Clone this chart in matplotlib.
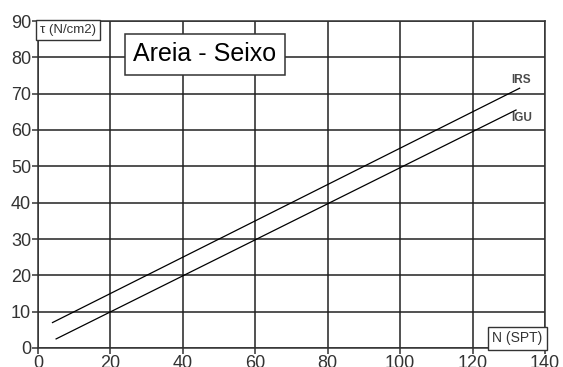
import matplotlib.pyplot as plt

plt.rcParams['font.family'] = ['Liberation Sans', 'DejaVu Sans']

irs_n = [4, 133]
irs_tau = [7, 71.5]
igu_n = [5, 132]
igu_tau = [2.5, 65.5]
xticks = [0, 20, 40, 60, 80, 100, 120, 140]
yticks = [0, 10, 20, 30, 40, 50, 60, 70, 80, 90]

fig = plt.figure(figsize=(5.63, 3.67), dpi=100)
ax = fig.add_axes([38/563, 1-348/367, (545-38)/563, (348-21)/367])

ax.plot(irs_n, irs_tau, color='black', lw=0.9)
ax.plot(igu_n, igu_tau, color='black', lw=0.9)

ax.set_xlim(0, 140)
ax.set_ylim(0, 90)
ax.set_xticks(xticks)
ax.set_yticks(yticks)
ax.grid(True, color='#222222', lw=1.1)
ax.set_axisbelow(True)
for s in ax.spines.values():
    s.set_color('#333333')
    s.set_linewidth(1.1)
ax.tick_params(length=4, width=1.1, color='#333333', labelcolor='#333333',
               labelsize=13, pad=1)

ax.text(130.8, 72, 'IRS', fontsize=8.5, color='#4a4a4a', fontweight='semibold',
        ha='left', va='bottom')
ax.text(130.8, 63.4, 'IGU', fontsize=8.5, color='#4a4a4a', fontweight='semibold',
        ha='left', va='center')

box = dict(boxstyle='square,pad=0.3', fc='white', ec='#333333', lw=1)
ax.text(0.5, 89.2, '\u03c4 (N/cm2)', fontsize=9.5, color='#333333',
        ha='left', va='top', bbox=box)
ax.text(139.3, 0.7, 'N (SPT)', fontsize=10, color='#333333',
        ha='right', va='bottom', bbox=box)
ax.text(46.1, 80.8, 'Areia - Seixo', fontsize=18, color='black', ha='center', va='center',
        bbox=dict(boxstyle='square,pad=0.35', fc='white', ec='#333333', lw=1.1))

fig.savefig('out.png', dpi=100)
